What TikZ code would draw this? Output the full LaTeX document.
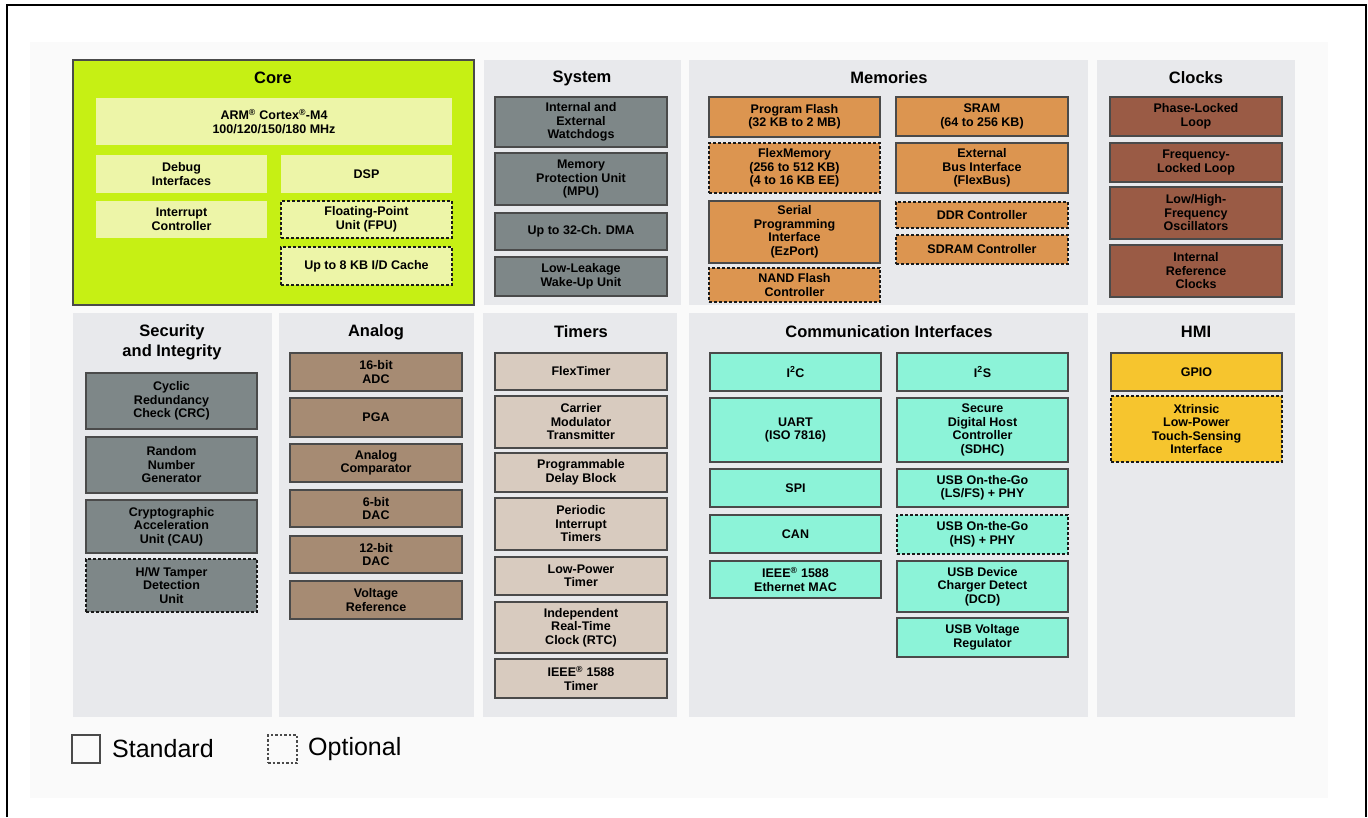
\documentclass[tikz,border=0pt]{standalone}
\usepackage{fontspec}
\setmainfont{Liberation Sans}
\usepackage{tikz}
\definecolor{bgwhite}{HTML}{FAFAFA}
\definecolor{panelgray}{HTML}{E8E9EC}
\definecolor{edgegray}{HTML}{4A4A4A}
\definecolor{coregreen}{HTML}{C6F014}
\definecolor{corebox}{HTML}{EDF5A8}
\definecolor{sysgray}{HTML}{7E8788}
\definecolor{memorange}{HTML}{DC9550}
\definecolor{clockbrown}{HTML}{9A5B45}
\definecolor{anabrown}{HTML}{A68B73}
\definecolor{timertan}{HTML}{D8CBBF}
\definecolor{commaqua}{HTML}{8CF3D8}
\definecolor{hmiyellow}{HTML}{F6C52E}
\tikzset{
  panel/.style={fill=panelgray},
  blk/.style={draw=edgegray, line width=1.3pt, inner sep=0pt, align=center,
    font=\fontsize{12.5}{13.5}\selectfont\bfseries, minimum width=171pt},
  opt/.style={blk, draw=black!90, line width=1.6pt, dash pattern=on 3pt off 2pt},
  ptitle/.style={inner sep=0pt, align=center, font=\fontsize{16.5}{20}\selectfont\bfseries},
  legtext/.style={inner sep=0pt, anchor=west, font=\fontsize{25}{30}\selectfont},
}

\begin{document}
\begin{tikzpicture}[x=1pt, y=-1pt]
  \useasboundingbox (0,0) rectangle (1368,817);
  \fill[bgwhite] (30,42) rectangle (1328,798);
  % frame
  \draw[line width=2pt] (7,817) -- (7,5) -- (1366,5) -- (1366,817);

  % top row panels
  \fill[coregreen, draw=edgegray, line width=1.5pt] (73,60) rectangle (474,305);
  \fill[panel] (484,60) rectangle (681,305);
  \fill[panel] (689,60) rectangle (1088,305);
  \fill[panel] (1097,60) rectangle (1295,305);
  % bottom row panels
  \fill[panel] (73,313) rectangle (272,717);
  \fill[panel] (279,313) rectangle (474,717);
  \fill[panel] (483,313) rectangle (677,717);
  \fill[panel] (689,313) rectangle (1088,717);
  \fill[panel] (1097,313) rectangle (1295,717);

  % Core
  \node[ptitle] (coretitle) at (273,78) {Core};
  \node[blk, draw=none, fill=corebox, minimum width=356pt, minimum height=47pt] (arm) at (274,121.5)
    {ARM\textsuperscript{®} Cortex\textsuperscript{®}-M4\\100/120/150/180 MHz};
  \node[blk, draw=none, fill=corebox, minimum height=38pt] (debug) at (181.5,174) {Debug\\Interfaces};
  \node[blk, draw=none, fill=corebox, minimum height=38pt] (dsp) at (366.5,174) {DSP};
  \node[blk, draw=none, fill=corebox, minimum height=37pt] (nvic) at (181.5,219.5) {Interrupt\\Controller};
  \node[opt, fill=corebox, minimum height=37pt] (fpu) at (366.5,219.5) {Floating-Point\\Unit (FPU)};
  \node[opt, fill=corebox, minimum height=38pt] (cache) at (366.5,266) {Up to 8 KB I/D Cache};

  % System
  \node[ptitle] (systitle) at (582,78) {System};
  \node[blk, fill=sysgray, minimum width=172pt, minimum height=50pt] (wdog) at (581,122) {Internal and\\External\\Watchdogs};
  \node[blk, fill=sysgray, minimum width=172pt, minimum height=52pt] (mpu) at (581,179) {Memory\\Protection Unit\\(MPU)};
  \node[blk, fill=sysgray, minimum width=172pt, minimum height=37pt] (dma) at (581,231.5) {Up to 32-Ch. DMA};
  \node[blk, fill=sysgray, minimum width=172pt, minimum height=39pt] (llwu) at (581,276.5) {Low-Leakage\\Wake-Up Unit};

  % Memories
  \node[ptitle] (memtitle) at (889,78) {Memories};
  \node[blk, fill=memorange, minimum height=40pt] (pflash) at (794.5,117) {Program Flash\\(32 KB to 2 MB)};
  \node[opt, fill=memorange, minimum height=50pt] (flexmem) at (794.5,168) {FlexMemory\\(256 to 512 KB)\\(4 to 16 KB EE)};
  \node[blk, fill=memorange, minimum height=62pt] (ezport) at (794.5,232) {Serial\\Programming\\Interface\\(EzPort)};
  \node[opt, fill=memorange, minimum height=34pt] (nand) at (794.5,285) {NAND Flash\\Controller};
  \node[blk, fill=memorange, minimum width=172pt, minimum height=39pt] (sram) at (982,116.5) {SRAM\\(64 to 256 KB)};
  \node[blk, fill=memorange, minimum width=172pt, minimum height=50pt] (flexbus) at (982,168) {External\\Bus Interface\\(FlexBus)};
  \node[opt, fill=memorange, minimum width=172pt, minimum height=26pt] (ddr) at (982,215) {DDR Controller};
  \node[opt, fill=memorange, minimum width=172pt, minimum height=29pt] (sdram) at (982,249.5) {SDRAM Controller};

  % Clocks
  \node[ptitle] (clktitle) at (1196,78) {Clocks};
  \node[blk, fill=clockbrown, minimum width=172pt, minimum height=39pt] (pll) at (1196,116.5) {Phase-Locked\\Loop};
  \node[blk, fill=clockbrown, minimum width=172pt, minimum height=39pt] (fll) at (1196,162.5) {Frequency-\\Locked Loop};
  \node[blk, fill=clockbrown, minimum width=172pt, minimum height=52pt] (osc) at (1196,213) {Low/High-\\Frequency\\Oscillators};
  \node[blk, fill=clockbrown, minimum width=172pt, minimum height=52pt] (irc) at (1196,271) {Internal\\Reference\\Clocks};

  % Security and Integrity
  \node[ptitle] (sectitle) at (172,342) {Security\\and Integrity};
  \node[blk, fill=sysgray, minimum height=56pt] (crc) at (171.5,401) {Cyclic\\Redundancy\\Check (CRC)};
  \node[blk, fill=sysgray, minimum height=56pt] (rng) at (171.5,465) {Random\\Number\\Generator};
  \node[blk, fill=sysgray, minimum height=53pt] (cau) at (171.5,526.5) {Cryptographic\\Acceleration\\Unit (CAU)};
  \node[opt, fill=sysgray, minimum height=53pt] (tamper) at (171.5,585.5) {H/W Tamper\\Detection\\Unit};

  % Analog
  \node[ptitle] (anatitle) at (376,332) {Analog};
  \node[blk, fill=anabrown, minimum width=172pt, minimum height=38pt] (adc) at (376,372) {16-bit\\ADC};
  \node[blk, fill=anabrown, minimum width=172pt, minimum height=39pt] (pga) at (376,417.5) {PGA};
  \node[blk, fill=anabrown, minimum width=172pt, minimum height=38pt] (cmp) at (376,463) {Analog\\Comparator};
  \node[blk, fill=anabrown, minimum width=172pt, minimum height=37pt] (dacsix) at (376,508.5) {6-bit\\DAC};
  \node[blk, fill=anabrown, minimum width=172pt, minimum height=37pt] (dactwelve) at (376,554.5) {12-bit\\DAC};
  \node[blk, fill=anabrown, minimum width=172pt, minimum height=38pt] (vref) at (376,600) {Voltage\\Reference};

  % Timers
  \node[ptitle] (tmrtitle) at (581,332) {Timers};
  \node[blk, fill=timertan, minimum width=172pt, minimum height=37pt] (ftm) at (581,371.5) {FlexTimer};
  \node[blk, fill=timertan, minimum width=172pt, minimum height=52pt] (cmt) at (581,422) {Carrier\\Modulator\\Transmitter};
  \node[blk, fill=timertan, minimum width=172pt, minimum height=39pt] (pdb) at (581,472.5) {Programmable\\Delay Block};
  \node[blk, fill=timertan, minimum width=172pt, minimum height=52pt] (pit) at (581,524) {Periodic\\Interrupt\\Timers};
  \node[blk, fill=timertan, minimum width=172pt, minimum height=38pt] (lpt) at (581,576) {Low-Power\\Timer};
  \node[blk, fill=timertan, minimum width=172pt, minimum height=51pt] (rtc) at (581,627.5) {Independent\\Real-Time\\Clock (RTC)};
  \node[blk, fill=timertan, minimum width=172pt, minimum height=39pt] (ieeetmr) at (581,678.5) {IEEE\textsuperscript{®} 1588\\Timer};

  % Communication Interfaces
  \node[ptitle] (comtitle) at (889,332) {Communication Interfaces};
  \node[blk, fill=commaqua, minimum height=38pt] (iic) at (795.5,372) {I\textsuperscript{2}C};
  \node[blk, fill=commaqua, minimum height=64pt] (uart) at (795.5,430) {UART\\(ISO 7816)};
  \node[blk, fill=commaqua, minimum height=38pt] (spi) at (795.5,488) {SPI};
  \node[blk, fill=commaqua, minimum height=38pt] (can) at (795.5,534) {CAN};
  \node[blk, fill=commaqua, minimum height=37pt] (enet) at (795.5,579.5) {IEEE\textsuperscript{®} 1588\\Ethernet MAC};
  \node[blk, fill=commaqua, minimum height=38pt] (iis) at (982.5,372) {I\textsuperscript{2}S};
  \node[blk, fill=commaqua, minimum height=64pt] (sdhc) at (982.5,430) {Secure\\Digital Host\\Controller\\(SDHC)};
  \node[blk, fill=commaqua, minimum height=38pt] (usbfs) at (982.5,488) {USB On-the-Go\\(LS/FS) + PHY};
  \node[opt, fill=commaqua, minimum height=39pt] (usbhs) at (982.5,534.5) {USB On-the-Go\\(HS) + PHY};
  \node[blk, fill=commaqua, minimum height=51pt] (usbdcd) at (982.5,586.5) {USB Device\\Charger Detect\\(DCD)};
  \node[blk, fill=commaqua, minimum height=39pt] (usbreg) at (982.5,637.5) {USB Voltage\\Regulator};

  % HMI
  \node[ptitle] (hmititle) at (1196,332) {HMI};
  \node[blk, fill=hmiyellow, minimum height=38pt] (gpio) at (1196.5,372) {GPIO};
  \node[opt, fill=hmiyellow, minimum height=66pt] (tsi) at (1196.5,429) {Xtrinsic\\Low-Power\\Touch-Sensing\\Interface};

  % legend
  \node[draw=edgegray, line width=1.5pt, minimum width=28pt, minimum height=28pt, inner sep=0pt] (stdkey) at (86,749) {};
  \node[legtext] (stdlabel) at (112,749) {Standard};
  \node[draw=edgegray, line width=1.5pt, dash pattern=on 2.5pt off 2pt, minimum width=29pt, minimum height=28pt, inner sep=0pt] (optkey) at (282.5,749) {};
  \node[legtext] (optlabel) at (308,749) {Optional};
\end{tikzpicture}
\end{document}
